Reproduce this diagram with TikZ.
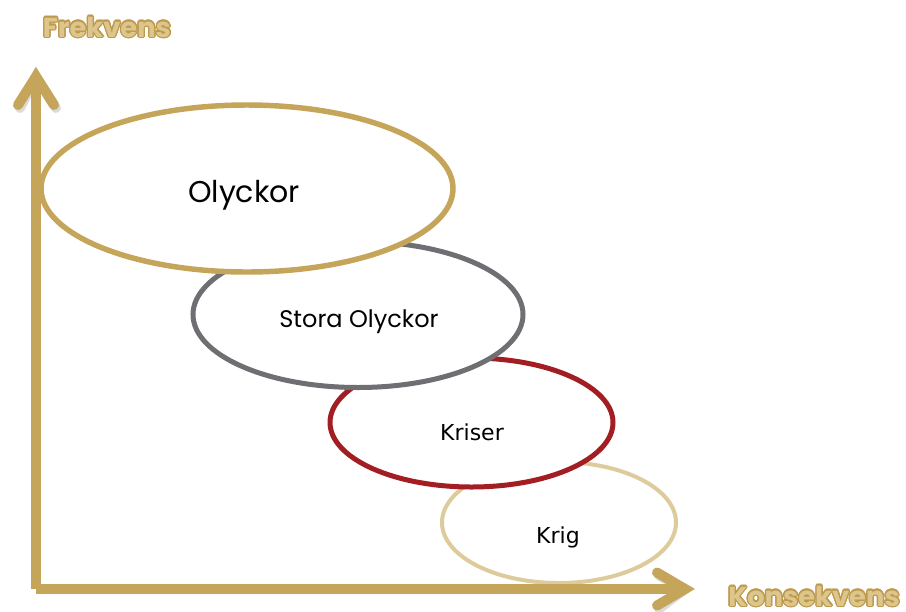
\documentclass[tikz,border=0pt]{standalone}
\usepackage{fontspec}
\setmainfont{Poppins}
\newfontfamily\verdfont{DejaVu Sans}
\usepackage{contour}
\contourlength{1pt}
\usetikzlibrary{shapes.geometric}

\definecolor{axisgold}{RGB}{197,165,90}
\definecolor{labelgold}{RGB}{221,198,140}
\definecolor{edgegold}{RGB}{190,154,78}
\definecolor{krisred}{RGB}{162,30,34}
\definecolor{storagray}{RGB}{110,110,115}
\definecolor{kriggold}{RGB}{222,203,156}

\tikzset{
	riskzone/.style={ellipse, fill=white, inner sep=0pt},
	axisline/.style={axisgold, line width=7.5pt},
	axisshade/.style={black, opacity=0.14, line width=7.5pt},
	axislabel/.style={anchor=base, inner sep=0pt, font=\bfseries\fontsize{20.5}{24}\selectfont},
}

\begin{document}
\begin{tikzpicture}[x=0.75pt,y=0.75pt,yscale=-1,xscale=1]
	\useasboundingbox (0,0) rectangle (906,611);
	
	%Ellipses, lowest first
	\node[riskzone, draw=kriggold, line width=3pt, minimum width=175.5pt, minimum height=90.75pt] (krig) at (559,522.5) {};
	\node[riskzone, draw=krisred, line width=3.75pt, minimum width=212.25pt, minimum height=96.75pt] (kriser) at (471.5,422.5) {};
	\node[riskzone, draw=storagray, line width=3.75pt, minimum width=247.5pt, minimum height=109.5pt] (stora) at (358,314.5) {};
	\node[riskzone, draw=axisgold, line width=4.1pt, minimum width=309pt, minimum height=125.25pt] (olyckor) at (247,188.5) {};
	
	% Text Nodes
	\node[anchor=base, inner sep=0pt, font=\fontsize{22.5}{26}\selectfont] (olyckortxt) at (244,202) {Olyckor};
	\node[anchor=base, inner sep=0pt, font=\fontsize{18}{22}\selectfont] (storatxt) at (359,327) {Stora Olyckor};
	\node[anchor=base, inner sep=0pt, font=\verdfont\fontsize{16.5}{20}\selectfont] (krisertxt) at (472,440) {Kriser};
	\node[anchor=base, inner sep=0pt, font=\verdfont\fontsize{16.5}{20}\selectfont] (krigtxt) at (558,543) {Krig};
	
	%Axes
	\coordinate (origo) at (36,589);
	\coordinate (ytop) at (36,76.5);
	\coordinate (xend) at (685,589);
	%shadow
	\begin{scope}[shift={(2,3)}]
		\draw[axisshade] (origo) -- (ytop);
		\draw[axisshade] (origo) -- (xend);
		\draw[axisshade, line cap=round, miter limit=10] (18,105) -- (ytop) -- (54,105);
		\draw[axisshade, line cap=round, miter limit=10] (657,572.5) -- (xend) -- (657,605.5);
	\end{scope}
	%Straight Lines
	\draw[axisline] (origo) -- (ytop);
	\draw[axisline] (origo) -- (xend);
	\draw[axisline, line cap=round, miter limit=10] (18,105) -- (ytop) -- (54,105);
	\draw[axisline, line cap=round, miter limit=10] (657,572.5) -- (xend) -- (657,605.5);
	
	%Axis labels
	\node[axislabel] (frekvens) at (107,37) {\contour{edgegold}{\textcolor{labelgold}{Frekvens}}};
	\node[axislabel] (konsekvens) at (814,606) {\contour{edgegold}{\textcolor{labelgold}{Konsekvens}}};
\end{tikzpicture}
\end{document}
